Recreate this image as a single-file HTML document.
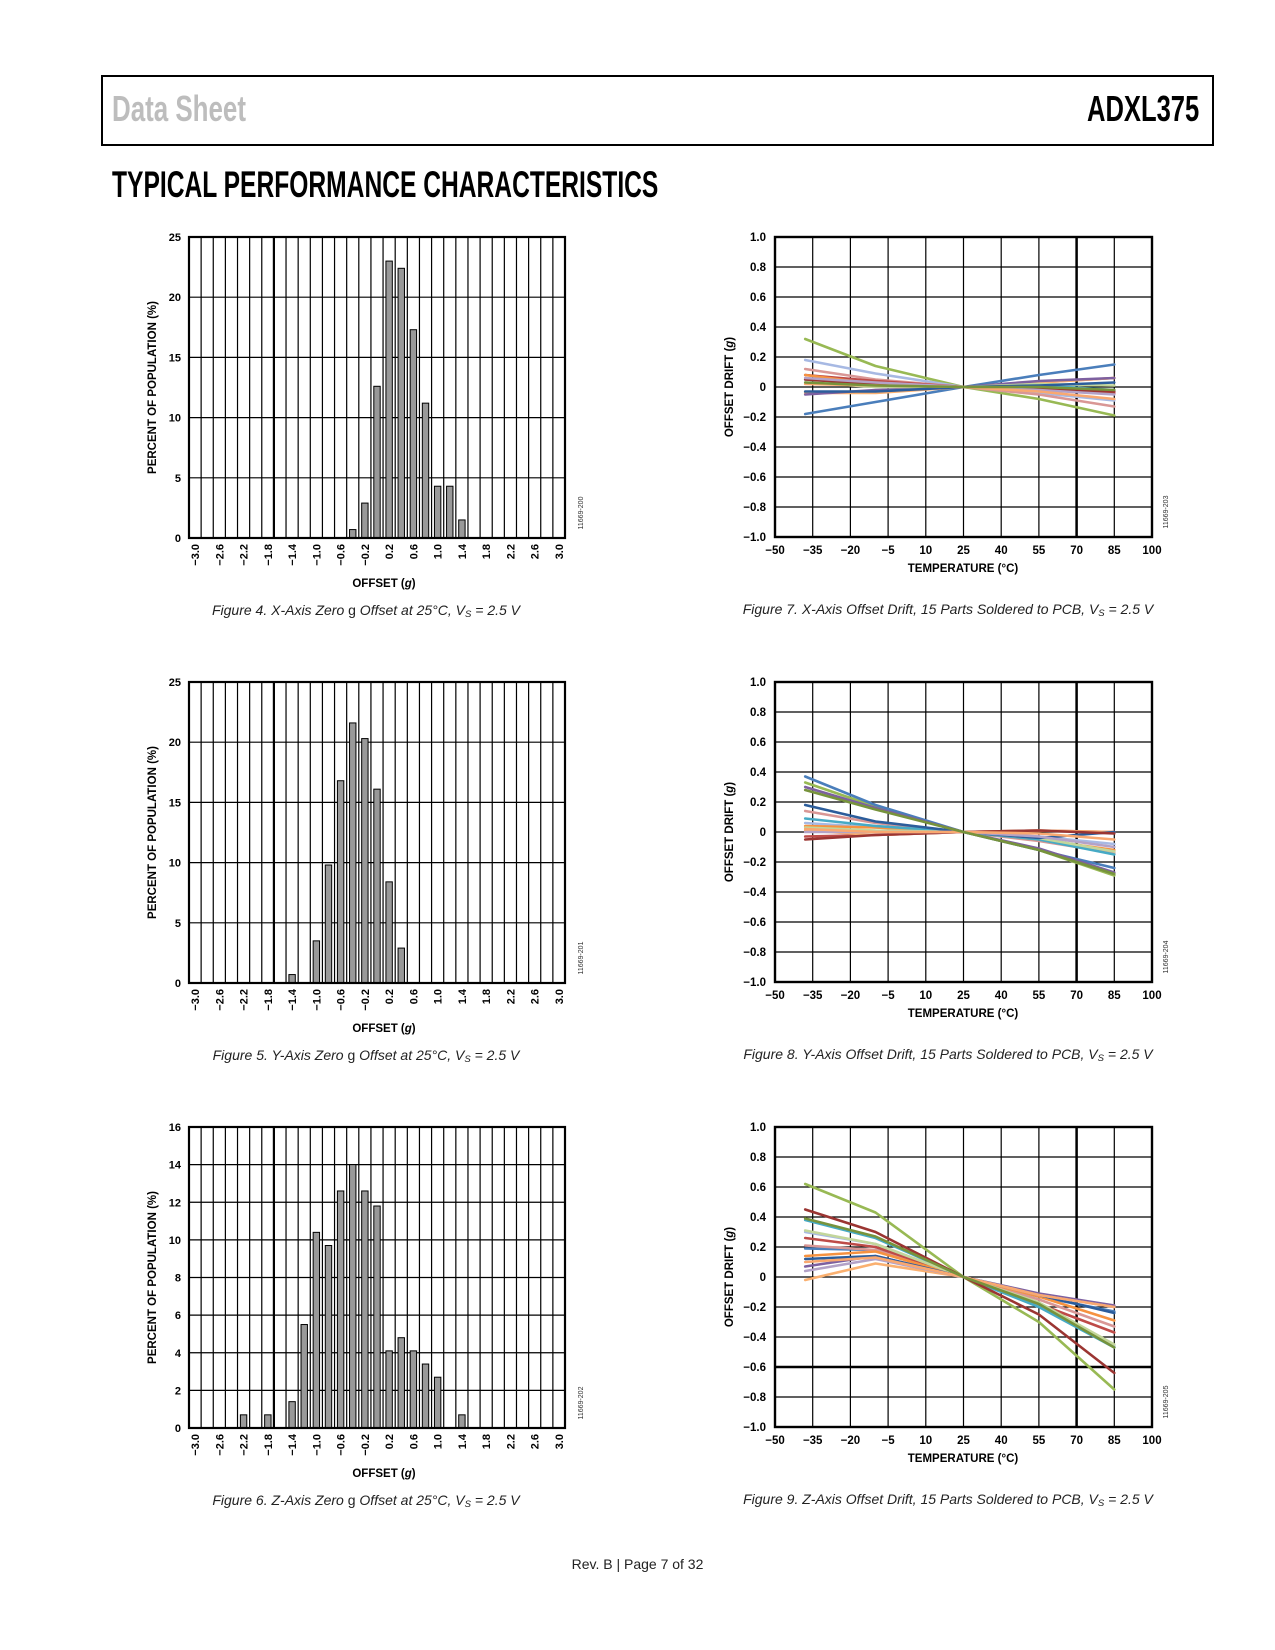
<!DOCTYPE html>
<html><head><meta charset="utf-8">
<style>
body{margin:0;background:#fff;}
#page{position:relative;width:1275px;height:1650px;overflow:hidden;background:#fff;font-family:"Liberation Sans",sans-serif;}
.hdr{position:absolute;left:101px;top:75px;width:1109px;height:67px;border:2px solid #000;}
.cond{position:absolute;white-space:nowrap;transform-origin:left top;font-weight:bold;}
</style></head>
<body>
<div id="page">
<div class="hdr"></div>
<div class="cond" style="left:112px;top:88px;font-size:36px;color:#bdbdbd;transform:scaleX(0.72);">Data Sheet</div>
<div class="cond" style="left:1087px;top:88px;font-size:36px;color:#000;transform:scaleX(0.71);">ADXL375</div>
<div class="cond" style="left:112px;top:164px;font-size:37px;color:#000;transform:scaleX(0.665);">TYPICAL PERFORMANCE CHARACTERISTICS</div>
<div style="position:absolute;left:0;width:1275px;top:1556px;text-align:center;font-size:14px;color:#222;">Rev. B | Page 7 of 32</div>
<svg id="charts" width="1275" height="1650" style="position:absolute;left:0;top:0" xmlns="http://www.w3.org/2000/svg"></svg>
</div>
<script>
// ---------- Histogram data ----------
const binCenters = [-3.0,-2.8,-2.6,-2.4,-2.2,-2.0,-1.8,-1.6,-1.4,-1.2,-1.0,-0.8,-0.6,-0.4,-0.2,0,0.2,0.4,0.6,0.8,1.0,1.2,1.4,1.6,1.8,2.0,2.2,2.4,2.6,2.8,3.0];
const xTickLabels = ["−3.0","−2.6","−2.2","−1.8","−1.4","−1.0","−0.6","−0.2","0.2","0.6","1.0","1.4","1.8","2.2","2.6","3.0"];
const histX = [0,0,0,0,0,0,0,0,0,0,0,0,0,0.7,2.9,12.6,23.0,22.4,17.3,11.2,4.3,4.3,1.5,0,0,0,0,0,0,0,0];
const histY = [0,0,0,0,0,0,0,0,0.7,0,3.5,9.8,16.8,21.6,20.3,16.1,8.4,2.9,0,0,0,0,0,0,0,0,0,0,0,0,0];
const histZ = [0,0,0,0,0.7,0,0.7,0,1.4,5.5,10.4,9.7,12.6,14.0,12.6,11.8,4.1,4.8,4.1,3.4,2.7,0,0.7,0,0,0,0,0,0,0,0];
const histYTicks12 = [0,5,10,15,20,25];
const histYTicks3 = [0,2,4,6,8,10,12,14,16];

// ---------- Drift data ----------
const temps = [-38,-10,25,55,85];
const tempTicks = [-50,-35,-20,-5,10,25,40,55,70,85,100];
const driftTicks = [-1.0,-0.8,-0.6,-0.4,-0.2,0,0.2,0.4,0.6,0.8,1.0];
const colors = ["#98b954","#a7b9e3","#4a7ebb","#d99795","#be4b48","#f69240","#fab070","#7d60a0","#46aac5","#c3d69b","#2c5d9b","#9b3532","#b3a2c7","#f9a870","#77933c"];
const driftX = [
 [0.32,0.14,0,-0.08,-0.19],[0.18,0.09,0,-0.04,-0.09],[-0.18,-0.10,0,0.08,0.15],[0.12,0.05,0,-0.05,-0.13],
 [0.08,0.04,0,-0.02,-0.04],[0.08,0.02,0,0.03,0.06],[-0.04,-0.04,0,0.03,0.06],[-0.05,-0.02,0,0.04,0.06],
 [0.05,0.02,0,0.01,-0.02],[0.03,0.00,0,0.02,0.01],[-0.03,-0.03,0,0.01,0.03],[0.05,0.02,0,-0.01,-0.03],
 [0.06,0.03,0,-0.02,-0.05],[0.02,0.01,0,-0.03,-0.08],[0.03,0.01,0,0.0,-0.02]];
const driftY = [
 [0.33,0.17,0,-0.12,-0.29],[0.06,0.03,0,-0.03,-0.08],[0.37,0.18,0,-0.12,-0.24],[0.14,0.06,0,-0.06,-0.14],
 [-0.03,-0.02,0,0.01,0.0],[0.04,0.03,0,-0.05,-0.12],[0.01,-0.02,0,0.01,0.0],[0.30,0.16,0,-0.11,-0.27],
 [0.09,0.04,0,-0.05,-0.15],[0.03,0.01,0,-0.04,-0.13],[0.18,0.07,0,-0.04,0.0],[-0.05,-0.02,0,0.01,-0.01],
 [0.0,0.0,0,-0.03,-0.10],[0.02,0.0,0,-0.01,-0.05],[0.28,0.15,0,-0.12,-0.28]];
const driftZ = [
 [0.62,0.43,0,-0.30,-0.75],[0.30,0.22,0,-0.18,-0.46],[0.19,0.18,0,-0.13,-0.23],[0.21,0.18,0,-0.15,-0.33],
 [0.26,0.20,0,-0.18,-0.37],[0.14,0.17,0,-0.13,-0.29],[-0.02,0.09,0,-0.12,-0.19],[0.07,0.14,0,-0.11,-0.19],
 [0.38,0.26,0,-0.20,-0.47],[0.31,0.22,0,-0.17,-0.45],[0.12,0.14,0,-0.12,-0.24],[0.45,0.30,0,-0.25,-0.64],
 [0.04,0.12,0,-0.12,-0.20],[0.10,0.13,0,-0.12,-0.20],[0.39,0.27,0,-0.18,-0.47]];

const svg = document.getElementById('charts');
const NS = "http://www.w3.org/2000/svg";
function mk(tag, attrs, parent){ const e=document.createElementNS(NS,tag); for(const k in attrs) e.setAttribute(k,attrs[k]); (parent||svg).appendChild(e); return e; }
function txt(s, attrs, parent){ const e=mk('text',attrs,parent); e.textContent=s; return e; }

function caption(cx, y, fig, axis, extra, name){
  const t = mk('text',{x:cx,y:y,'text-anchor':'middle','font-size':14,'font-style':'italic','font-family':'Liberation Sans, sans-serif',fill:'#222'});
  
  
  const parts = [["Figure "+fig+". "+axis+"-Axis "+extra[0],'italic'],[extra[1],'normal'],[extra[2],'italic'],["S",'italic',true],[" = 2.5 V",'italic']];
  parts.forEach(p=>{ const ts=document.createElementNS(NS,'tspan'); ts.textContent=p[0]; ts.setAttribute('font-style',p[1]); if(p[2]){ts.setAttribute('font-size','9.5');ts.setAttribute('dy','2');} else if(p[0]===" = 2.5 V"){ts.setAttribute('dy','-2');} t.appendChild(ts); });
}

function histogram(top, data, yTicks, yMax, fig, axis, code){
  const L=189, W=376, H=301, n=binCenters.length, bw=W/n;
  const g = mk('g',{});
  
  
  const yS = v => top + H - v/yMax*H;
  const xS = i => L + (i+0.5)*bw;
  for(let i=1;i<n;i++){ const x=L+i*bw; mk('line',{x1:x,x2:x,y1:top,y2:top+H,stroke:'#000','stroke-width':(i===7?2.2:1.2)},g); }
  yTicks.forEach(v=>{ const y=yS(v); mk('line',{x1:L,x2:L+W,y1:y,y2:y,stroke:'#000','stroke-width':1.2},g);
    const t=txt(String(v),{x:181,y:y+4,'text-anchor':'end','font-size':11,'font-weight':'bold'},g);
      });
  data.forEach((v,i)=>{ if(v<=0) return; const r=mk('rect',{x:xS(i)-3.2,y:yS(v),width:6.4,height:yS(0)-yS(v),fill:'#999',stroke:'#000','stroke-width':1},g);
      });
  mk('rect',{x:L,y:top,width:W,height:H,fill:'none',stroke:'#000','stroke-width':2.2},g);
  xTickLabels.forEach((s,k)=>{ const x=xS(k*2)+4; const t=txt(s,{x:x,y:top+H+6,'text-anchor':'end','font-size':11,'font-weight':'bold',transform:'rotate(-90 '+x+' '+(top+H+6)+')'},g);
      });
  const xt = mk('text',{x:384,y:top+H+49,'text-anchor':'middle','font-size':11.5,'font-weight':'bold'},g);
  xt.innerHTML='OFFSET (<tspan font-style="italic">g</tspan>)';
   
  const cy=top+H/2;
  const yt=txt('PERCENT OF POPULATION (%)',{x:156,y:cy,'text-anchor':'middle','font-size':11.5,'font-weight':'bold',transform:'rotate(-90 156 '+cy+')'},g);
   
  const cd=txt(code,{x:583,y:top+H-25,'text-anchor':'middle','font-size':7,fill:'#333',transform:'rotate(-90 583 '+(top+H-25)+')'},g);
   
  caption(366, top+H+77, fig, axis, ["Zero ","g"," Offset at 25°C, V"], 'figure-'+fig+'-caption');
}

function drift(top, series, fig, axis, code){
  const L=775, W=377, H=300;
  const g = mk('g',{});
  
  
  const xS = t => L + (t+50)/150*W;
  const yS = v => top + H - (v+1)/2*H;
  tempTicks.forEach(t=>{ const x=xS(t); mk('line',{x1:x,x2:x,y1:top,y2:top+H,stroke:'#000','stroke-width':(t===70?2.5:1.2)},g);
    const l=txt(t<0?'−'+Math.abs(t):String(t),{x:x,y:top+H+17,'text-anchor':'middle','font-size':11.5,'font-weight':'bold'},g);
      });
  driftTicks.forEach(v=>{ const y=yS(v); const thick=(axis==='Z'&&Math.abs(v+0.6)<1e-6);
    mk('line',{x1:L,x2:L+W,y1:y,y2:y,stroke:'#000','stroke-width':thick?2.5:1.2},g);
    const s = v===0?'0':(v<0?'−':'')+Math.abs(v).toFixed(1);
    const l=txt(s,{x:766,y:y+4,'text-anchor':'end','font-size':11.5,'font-weight':'bold'},g);
      });
  mk('rect',{x:L,y:top,width:W,height:H,fill:'none',stroke:'#000','stroke-width':2.4},g);
  series.forEach((vals,i)=>{ const pts=vals.map((v,k)=>xS(temps[k]).toFixed(1)+','+yS(v).toFixed(1)).join(' ');
    const p=mk('polyline',{points:pts,fill:'none',stroke:colors[i],'stroke-width':2.6,'stroke-linejoin':'round','stroke-linecap':'round'},g);
      });
  const xt=txt('TEMPERATURE (°C)',{x:963,y:top+H+35,'text-anchor':'middle','font-size':11.5,'font-weight':'bold'},g);
   
  const cy=top+H/2;
  const yt=mk('text',{x:733,y:cy,'text-anchor':'middle','font-size':11.5,'font-weight':'bold',transform:'rotate(-90 733 '+cy+')'},g);
  yt.innerHTML='OFFSET DRIFT (<tspan font-style="italic">g</tspan>)';
   
  const cd=txt(code,{x:1168,y:top+H-25,'text-anchor':'middle','font-size':7,fill:'#333',transform:'rotate(-90 1168 '+(top+H-25)+')'},g);
   
  const t = mk('text',{x:948,y:top+H+77,'text-anchor':'middle','font-size':14,'font-style':'italic',fill:'#222'});
  
  
  t.innerHTML='Figure '+fig+'. '+axis+'-Axis Offset Drift, 15 Parts Soldered to PCB, V<tspan font-size="9.5" dy="2">S</tspan><tspan dy="-2"> = 2.5 V</tspan>';
}

histogram(237, histX, histYTicks12, 25, 4, 'X', '11669-200');
histogram(682, histY, histYTicks12, 25, 5, 'Y', '11669-201');
histogram(1127, histZ, histYTicks3, 16, 6, 'Z', '11669-202');
drift(237, driftX, 7, 'X', '11669-203');
drift(682, driftY, 8, 'Y', '11669-204');
drift(1127, driftZ, 9, 'Z', '11669-205');
</script>
</body></html>
